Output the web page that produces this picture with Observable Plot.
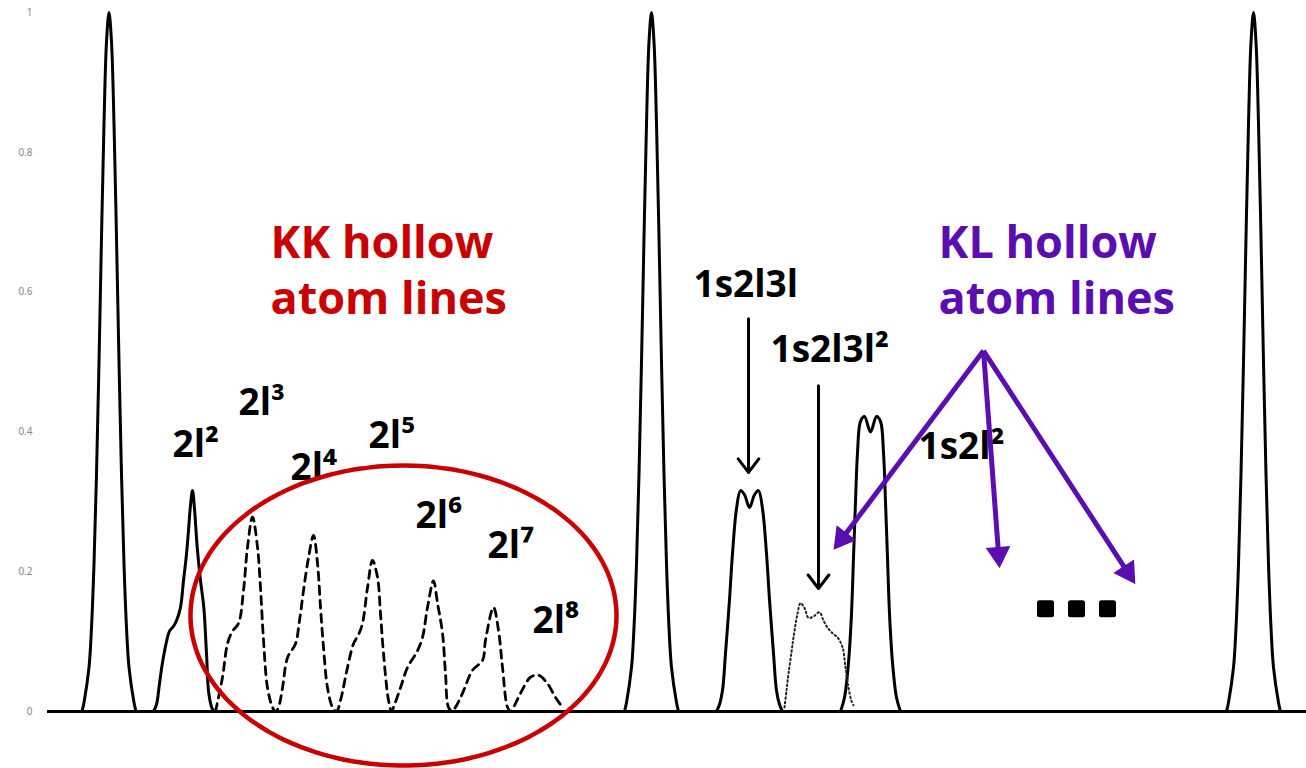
<!DOCTYPE html>
<html>
<head>
<meta charset="utf-8">
<script src="https://cdn.jsdelivr.net/npm/d3@7"></script>
<script src="https://cdn.jsdelivr.net/npm/@observablehq/plot@0.6"></script>
<style>
  html, body { margin: 0; padding: 0; background: #fff; overflow: hidden; }
  #chart svg { display: block; }
</style>
</head>
<body>
<div id="chart"></div>
<script>
// ---- axis ----
const yTicks = [0, 0.2, 0.4, 0.6, 0.8, 1];
const yTickLabels = ["0", "0.2", "0.4", "0.6", "0.8", "1"];

// ---- spectrum peaks: [channel, intensity] ----
const peakK1 = [[81.5,0],[83.5,0.013],[88.5,0.063],[91,0.12],[93.5,0.211],[96,0.339],[98.5,0.5],[101,0.678],[103.5,0.841],[106,0.958],[108.5,1],[111,0.958],[113.5,0.841],[116,0.678],[118.5,0.5],[121,0.339],[123.5,0.211],[126,0.12],[128.5,0.063],[133.5,0.013],[135.5,0]];
const peak2l2 = [[153,0],[156,0.01],[159,0.04],[162,0.07],[166,0.1],[169,0.115],[173,0.122],[176,0.13],[180,0.149],[183,0.187],[186,0.225],[188,0.259],[190,0.295],[192,0.316],[194,0.29],[196.7,0.235],[200,0.187],[203.3,0.149],[206,0.083],[208.3,0.026],[211.7,0.004],[214,0]];
const peakK2 = [[624,0],[626,0.013],[631,0.063],[633.5,0.12],[636,0.211],[638.5,0.339],[641,0.5],[643.5,0.678],[646,0.841],[648.5,0.958],[651,1],[653.5,0.958],[656,0.841],[658.5,0.678],[661,0.5],[663.5,0.339],[666,0.211],[668.5,0.12],[671,0.063],[676,0.013],[678,0]];
const peak1s2l3l = [[716,0],[719,0.01],[722,0.03],[725,0.083],[729,0.16],[732,0.226],[736,0.29],[740,0.316],[744,0.31],[749,0.292],[754,0.31],[758,0.316],[762,0.29],[766,0.226],[769,0.16],[773,0.083],[776,0.03],[779,0.01],[782,0]];
const peak1s2l2 = [[840,0],[844,0.02],[848,0.07],[851,0.14],[853,0.22],[855,0.3],[857,0.37],[860,0.415],[864,0.422],[870,0.4],[876,0.422],[880,0.415],[883,0.37],[885,0.3],[887,0.22],[889,0.14],[892,0.07],[896,0.02],[900,0]];
const peakK3 = [[1226,0],[1228,0.013],[1233,0.063],[1235.5,0.12],[1238,0.211],[1240.5,0.339],[1243,0.5],[1245.5,0.678],[1248,0.841],[1250.5,0.958],[1253,1],[1255.5,0.958],[1258,0.841],[1260.5,0.678],[1263,0.5],[1265.5,0.339],[1268,0.211],[1270.5,0.12],[1273,0.063],[1278,0.013],[1280,0]];

// KK hollow atom lines (dashed), 2l^3 ... 2l^8
const kkHollow = [
  [215,0],[222,0.049],[227,0.097],[232,0.115],[238,0.126],[243,0.173],[247,0.235],[252,0.278],[257,0.235],[260,0.177],[263,0.102],[267,0.034],[272,0.006],[275,0],
  [278,0.006],[282,0.034],[287,0.077],[295,0.097],[299,0.13],[303,0.173],[308,0.22],[313,0.252],[317,0.212],[320,0.149],[323,0.092],[327,0.034],[332,0.006],
  [336,0],[340,0.016],[347,0.063],[353,0.097],[358,0.11],[362,0.126],[367,0.177],[372,0.216],[377,0.192],[380,0.14],[383,0.083],[388,0.016],[391,0],
  [393,0.006],[400,0.034],[407,0.063],[417,0.087],[422,0.106],[427,0.149],[433,0.187],[437,0.155],[442,0.112],[445,0.054],[448,0.006],
  [452,0],[455,0.006],[462,0.026],[472,0.059],[482,0.073],[485,0.102],[493,0.149],[498,0.116],[502,0.063],[507,0.006],[510,0],
  [513,0.006],[520,0.026],[530,0.049],[538,0.052],[547,0.04],[555,0.02],[562,0.006]
];
// 1s2l3l^2 (dotted)
const peak1s2l3l2 = [[784,0.006],[786,0.03],[788,0.054],[791,0.085],[793,0.106],[797,0.14],[800,0.155],[804,0.148],[808,0.134],[813,0.136],[819,0.142],[823,0.13],[827,0.12],[832,0.112],[837,0.106],[842,0.092],[845,0.063],[848,0.034],[851,0.015],[853,0.009]];

// ---- annotations ----
const lineLabels = ["2l²","2l³","2l⁴","2l⁵","2l⁶","2l⁷","2l⁸","1s2l3l","1s2l3l²","1s2l²"];
const lineLabelX = [172, 238, 290, 368, 415, 487, 532, 693, 770, 918];
const lineLabelY = [0.3634, 0.4235, 0.3305, 0.3763, 0.2632, 0.2203, 0.113, 0.5923, 0.4993, 0.3619];

const groupTitles = ["KK hollow\natom lines", "KL hollow\natom lines"];
const groupTitleX = [270, 938];
const groupTitleY = [0.569, 0.569];
const groupColors = ["#c80000", "#5a0eb0"];

const blackArrows = [
  {x1: 748, y1: 0.562, x2: 748, y2: 0.342},
  {x1: 818, y1: 0.466, x2: 818, y2: 0.176}
];
const purpleArrows = [
  {x1: 983, y1: 0.516, x2: 834, y2: 0.233},
  {x1: 983, y1: 0.516, x2: 999, y2: 0.207},
  {x1: 983, y1: 0.516, x2: 1134, y2: 0.184}
];
const moreDotsX = [1045, 1076, 1107];
const moreDotsY = [0.147, 0.147, 0.147];

// ellipse around the KK lines: centre/radii in data units
const kkEllipse = {cx: 403, cy: 0.1373, rx: 213, ry: 0.2146};

// ---- layout constants ----
const W = 1306, H = 768, mL = 47, mR = 0, mT = 12, mB = 57;
const pxPerY = H - mT - mB; // pixels per intensity unit (x is 1 px per channel)

// ---- build tables ----
const toRows = (pts, id) => pts.map(([x, y]) => ({x, y, id}));
const solidRows = [
  ...toRows(peakK1, "K1"), ...toRows(peak2l2, "2l2"), ...toRows(peakK2, "K2"),
  ...toRows(peak1s2l3l, "1s2l3l"), ...toRows(peak1s2l2, "1s2l2"), ...toRows(peakK3, "K3")
];
const dashedRows = toRows(kkHollow, "kk");
const dottedRows = toRows(peak1s2l3l2, "dot");
const labelRows = lineLabels.map((t, i) => ({t, x: lineLabelX[i], y: lineLabelY[i]}));
const titleRows = groupTitles.map((t, i) => ({t, x: groupTitleX[i], y: groupTitleY[i], c: groupColors[i]}));
const dotRows = moreDotsX.map((x, i) => ({x, y: moreDotsY[i]}));
const ellipseRows = d3.range(0, 360, 3).map(a => ({
  x: kkEllipse.cx + kkEllipse.rx * Math.cos(a * Math.PI / 180),
  y: kkEllipse.cy + kkEllipse.ry * Math.sin(a * Math.PI / 180)
}));
// filled triangular heads for the purple arrows
const headR = 8.2;  // symbol radius (area = pi r^2)
const headBack = 2 * Math.sqrt((Math.PI * headR * headR) / (3 * Math.sqrt(3))); // centroid-to-tip distance
const purpleHeads = purpleArrows.map(a => {
  const dx = a.x2 - a.x1, dy = -(a.y2 - a.y1) * pxPerY;
  const len = Math.hypot(dx, dy), ux = dx / len, uy = dy / len;
  return {
    x1: a.x1, y1: a.y1,
    x: a.x2 - ux * headBack,
    y: a.y2 + uy * headBack / pxPerY,
    rotate: Math.atan2(ux, -uy) * 180 / Math.PI
  };
});

const font = "'Open Sans', 'DejaVu Sans', sans-serif";

const chart = Plot.plot({
  width: W,
  height: H,
  marginLeft: mL,
  marginRight: mR,
  marginTop: mT,
  marginBottom: mB,
  x: {domain: [mL, W], axis: null},
  y: {domain: [0, 1], axis: null},
  style: {background: "#fff", overflow: "visible"},
  marks: [
    Plot.axisY({ticks: yTicks, tickFormat: d => yTickLabels[yTicks.indexOf(d)], tickSize: 0, tickPadding: 15, fontSize: 10, color: "#888"}),
    Plot.ruleY([0], {stroke: "black", strokeWidth: 3}),
    Plot.line(solidRows, {x: "x", y: "y", z: "id", stroke: "black", strokeWidth: 3, curve: "catmull-rom"}),
    Plot.line(dashedRows, {x: "x", y: "y", stroke: "black", strokeWidth: 2.8, strokeDasharray: "8,6", curve: "catmull-rom"}),
    Plot.line(dottedRows, {x: "x", y: "y", stroke: "#222", strokeWidth: 2, strokeDasharray: "1.5,2.8", curve: "catmull-rom"}),
    Plot.text(labelRows, {x: "x", y: "y", text: "t", textAnchor: "start", lineAnchor: "bottom", fontSize: 37, fontWeight: "bold", fontFamily: font, fill: "black"}),
    Plot.text(titleRows, {x: "x", y: "y", text: "t", textAnchor: "start", lineAnchor: "bottom", lineHeight: 1.245, fontSize: 45, fontWeight: "bold", fontFamily: font, fill: "c"}),
    Plot.line(ellipseRows, {x: "x", y: "y", stroke: "#c80000", strokeWidth: 4.5, curve: "catmull-rom-closed"}),
    Plot.arrow(blackArrows, {x1: "x1", y1: "y1", x2: "x2", y2: "y2", stroke: "black", strokeWidth: 3, headLength: 8.5, headAngle: 75}),
    Plot.link(purpleHeads, {x1: "x1", y1: "y1", x2: "x", y2: "y", stroke: "#5a0eb0", strokeWidth: 5}),
    Plot.dot(purpleHeads, {x: "x", y: "y", r: headR, symbol: "triangle", rotate: "rotate", fill: "#5a0eb0", stroke: "#5a0eb0", strokeWidth: 1.5}),
    Plot.dot(dotRows, {x: "x", y: "y", r: 6.8, symbol: "square", fill: "black", stroke: "black", strokeWidth: 5, strokeLinejoin: "round"})
  ]
});
document.getElementById("chart").appendChild(chart);
</script>
</body>
</html>
